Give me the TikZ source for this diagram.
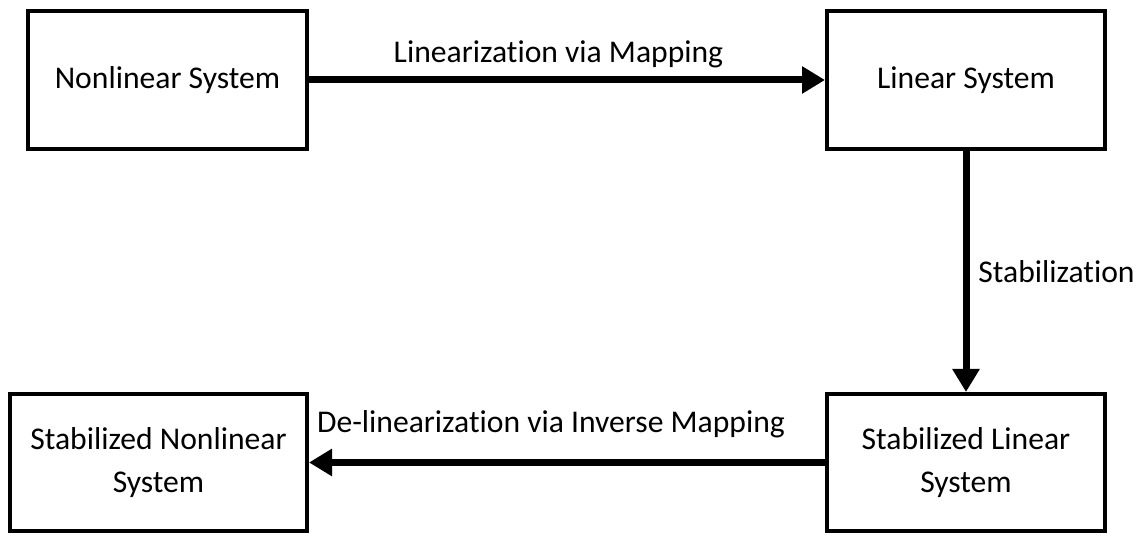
\documentclass[tikz,border=0pt]{standalone}
\usepackage{fontspec}
\setmainfont{Carlito}[Ligatures=NoCommon]
\usetikzlibrary{arrows.meta}

\begin{document}
\begin{tikzpicture}[
        sysbox/.style={draw, line width=0.08cm, align=center, inner sep=0pt},
        flow/.style={line width=0.14cm, -{Triangle[length=0.46cm,width=0.52cm]}},
        font=\fontsize{18}{24}\selectfont
    ]
        \useasboundingbox (0,0) rectangle (22.92,10.66);

         % nonlinear system
        \node[sysbox, minimum width=5.58cm, minimum height=2.76cm] (nonlin) at (3.35,9.06) {Nonlinear System};

         % linear system
        \node[sysbox, minimum width=5.56cm, minimum height=2.76cm] (lin) at (19.32,9.06) {Linear System};

         % stabilized linear system
        \node[sysbox, minimum width=5.56cm, minimum height=2.74cm] (stablin) at (19.32,1.41) {Stabilized Linear\\System};

         % stabilized nonlinear system
        \node[sysbox, minimum width=5.94cm, minimum height=2.74cm] (stabnonlin) at (3.17,1.41) {Stabilized Nonlinear\\System};

        % arrows
        \draw[flow] (nonlin) -- (lin);
        \draw[flow] (lin) -- (stablin);
        \draw[flow] (stablin) -- (stabnonlin);

        % labels
        \node[anchor=base] (linlabel) at (11.17,9.40) {Linearization via Mapping};
        \node[anchor=base west, inner sep=0pt] (stablabel) at (19.56,5.00) {Stabilization};
        \node[anchor=base] (delinlabel) at (11.02,2.00) {De-linearization via Inverse Mapping};
      \end{tikzpicture}
\end{document}
